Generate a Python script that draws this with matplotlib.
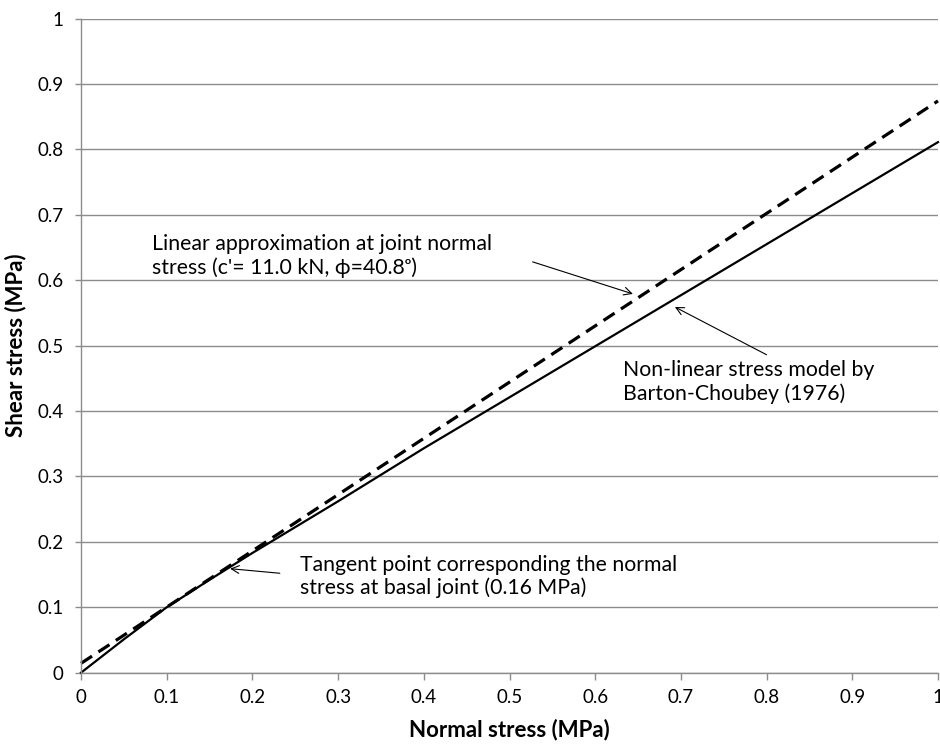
import matplotlib
matplotlib.use("Agg")
import matplotlib.pyplot as plt

plt.rcParams['font.family'] = ['Lato', 'DejaVu Sans']
plt.rcParams['lines.scale_dashes'] = False

# Data
normal_stress = [0.0, 0.05, 0.1, 0.15, 0.2, 0.3, 0.4, 0.5, 0.6, 0.7, 0.8, 0.9, 1.0]
shear_barton = [0.0, 0.051, 0.100, 0.142, 0.183, 0.262, 0.343, 0.421, 0.499, 0.577, 0.655, 0.733, 0.811]
linear_x = [0.0, 1.0]
linear_y = [0.0143, 0.874]

x_ticks = [0, 0.1, 0.2, 0.3, 0.4, 0.5, 0.6, 0.7, 0.8, 0.9, 1]
x_tick_labels = ['0', '0.1', '0.2', '0.3', '0.4', '0.5', '0.6', '0.7', '0.8', '0.9', '1']
y_ticks = [0, 0.1, 0.2, 0.3, 0.4, 0.5, 0.6, 0.7, 0.8, 0.9, 1]
y_tick_labels = ['0', '0.1', '0.2', '0.3', '0.4', '0.5', '0.6', '0.7', '0.8', '0.9', '1']

fig = plt.figure(figsize=(9.4, 7.47), dpi=100)
ax = fig.add_axes([81/940, 1 - 672.7/747, 857/940, (672.7 - 18.5)/747])

grid_c = '#8c8c8c'
ax.set_xlim(0, 1)
ax.set_ylim(0, 1)
ax.set_yticks(y_ticks)
ax.set_yticklabels(y_tick_labels)
ax.set_xticks(x_ticks)
ax.set_xticklabels(x_tick_labels)
ax.yaxis.grid(True, color=grid_c, linewidth=1.0)
ax.set_axisbelow(True)
for s in ['top', 'right']:
    ax.spines[s].set_visible(False)
for s in ['left', 'bottom']:
    ax.spines[s].set_color(grid_c)
    ax.spines[s].set_linewidth(1.0)
ax.tick_params(axis='x', direction='out', length=5, width=1, color=grid_c, labelsize=13.5, pad=7)
ax.tick_params(axis='y', direction='out', length=4.5, width=1, color=grid_c, labelsize=13.5, pad=8)

ax.plot(linear_x, linear_y, color='black', linewidth=2.3, dashes=(9.5, 5.5), clip_on=False)
ax.plot(normal_stress, shear_barton, color='black', linewidth=1.6, clip_on=False)

ax.set_xlabel('Normal stress (MPa)', fontsize=16, fontweight='bold', labelpad=9)
ax.set_ylabel('Shear stress (MPa)', fontsize=16, fontweight='bold', labelpad=8)

fs = 15.3
ap = dict(arrowstyle='->', color='black', linewidth=0.8, mutation_scale=14, shrinkA=0, shrinkB=0)

ax.text(0.083, 0.637, "Linear approximation at joint normal\nstress (c'= 11.0 kN, \u03d5=40.8\u1d52)",
        fontsize=fs, ha='left', va='center', linespacing=1.2)
ax.annotate('', xy=(0.644, 0.579), xytext=(0.527, 0.628), arrowprops=ap)

ax.text(0.632, 0.444, "Non-linear stress model by\nBarton-Choubey (1976)",
        fontsize=fs, ha='left', va='center', linespacing=1.2)
ax.annotate('', xy=(0.693, 0.559), xytext=(0.800, 0.486), arrowprops=ap)

ax.text(0.2555, 0.147, "Tangent point corresponding the normal\nstress at basal joint (0.16 MPa)",
        fontsize=fs, ha='left', va='center', linespacing=1.2)
ax.annotate('', xy=(0.174, 0.159), xytext=(0.232, 0.152), arrowprops=ap)

fig.savefig('out.png', dpi=100)
